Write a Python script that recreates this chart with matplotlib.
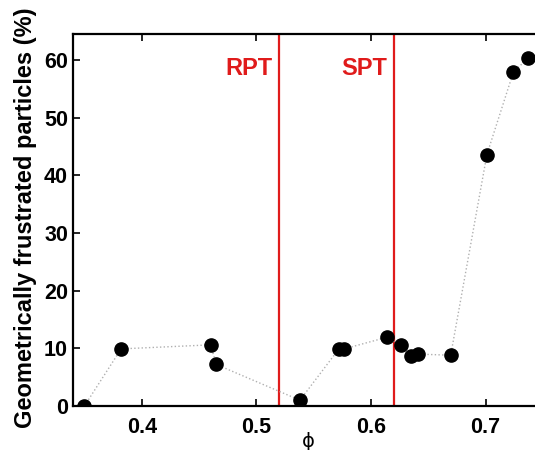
import matplotlib
matplotlib.use("Agg")
import matplotlib.pyplot as plt

# packing fraction vs. share of geometrically frustrated particles
phi = [0.350, 0.382, 0.460, 0.465, 0.538, 0.572, 0.5765, 0.6136, 0.6264,
       0.6349, 0.6407, 0.6695, 0.7011, 0.7242, 0.7369]
frustrated = [0.0, 9.9, 10.6, 7.2, 1.0, 9.9, 9.9, 11.9, 10.5,
              8.6, 9.0, 8.8, 43.6, 57.9, 60.3]

transitions = [0.52, 0.62]
transition_names = ["RPT", "SPT"]

xticks = [0.4, 0.5, 0.6, 0.7]
yticks = [0, 10, 20, 30, 40, 50, 60]

plt.rcParams['font.family'] = ['Liberation Sans', 'DejaVu Sans']

fig = plt.figure(figsize=(5.35, 4.5), dpi=100)
ax = fig.add_axes([0.1364, 0.0978, 0.8785, 0.8267])

ax.plot(phi, frustrated, linestyle=':', color='#b0b0b0', linewidth=1.0, zorder=2)
ax.plot(phi, frustrated, linestyle='none', marker='o', markersize=9.5,
        color='black', zorder=3)

red = '#e01b1b'
for xpos, name in zip(transitions, transition_names):
    ax.axvline(xpos, color=red, linewidth=1.6, zorder=1)
    ax.text(xpos - 0.006, 58.6, name, color=red, fontsize=17, fontweight='bold',
            ha='right', va='center')

ax.set_xlim(0.34, 0.75)
ax.set_ylim(0, 64.5)
ax.set_xticks(xticks)
ax.set_xticklabels(["%.1f" % v for v in xticks])
ax.set_yticks(yticks)
ax.tick_params(direction='in', length=5, width=1.2, labelsize=15.5,
               top=True, right=True)
ax.tick_params(axis='x', pad=8)
ax.tick_params(axis='y', pad=3.5)
for lab in ax.get_xticklabels() + ax.get_yticklabels():
    lab.set_fontweight('bold')

for side in ['left', 'bottom', 'top', 'right']:
    ax.spines[side].set_linewidth(1.6)

ax.set_xlabel("\u03d5", fontsize=14, family='DejaVu Sans')
ax.xaxis.set_label_coords(0.5, -0.07)
ax.set_ylabel("Geometrically frustrated particles (%)", fontsize=17,
              fontweight='bold')
ax.yaxis.set_label_coords(-0.077, 0.505)

fig.savefig("out.png", dpi=100)
